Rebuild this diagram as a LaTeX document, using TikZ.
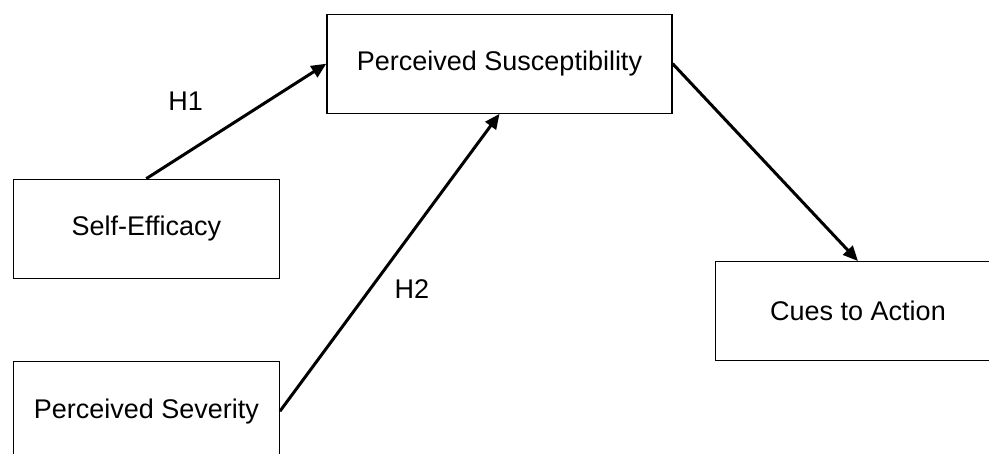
\documentclass[tikz,border=0pt]{standalone}
\usepackage{fontspec}
\setmainfont{Liberation Sans}
\usetikzlibrary{arrows.meta,positioning}

\begin{document}
\begin{tikzpicture}[x=1pt,y=-1pt,
 box/.style={rectangle,draw,line width=1.3pt,minimum height=99pt,inner sep=0pt,font=\fontsize{27}{32}\selectfont},
 link/.style={-{Triangle[length=15pt,width=13pt]},line width=3pt},
 hyp/.style={font=\fontsize{27}{32}\selectfont}]
\clip (0,0) rectangle (989,454);
\node[box,minimum width=345pt] (ps) at (499.5,63.7) {Perceived Susceptibility};
\node[box,minimum width=266pt] (se) at (146.3,228.8) {Self-Efficacy};
\node[box,minimum width=266pt] (sev) at (146.3,411.2) {Perceived Severity};
\node[box,minimum width=285pt] (cues) at (858,311.2) {Cues to Action};
\node[hyp] (h1) at (185.7,101.7) {H1};
\node[hyp] (h2) at (412,289) {H2};
\draw[link] (se.north) -- (ps.west);
\draw[link] (sev.east) -- (ps.south);
\draw[link] (ps.east) -- (cues.north);
\end{tikzpicture}
\end{document}
